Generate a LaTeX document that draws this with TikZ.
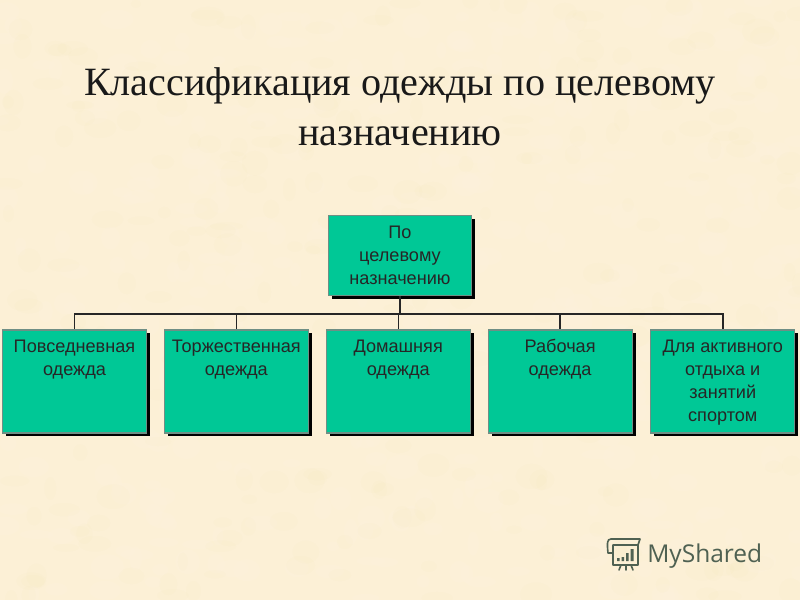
\documentclass[tikz,border=0pt]{standalone}
\usepackage{fontspec}
\setmainfont{Liberation Serif}
\setsansfont{Liberation Sans}
\newfontfamily\logofont{Open Sans}
\usepackage{xcolor}
\usetikzlibrary{positioning,shadows}
\definecolor{parchment}{HTML}{FCF0D6}
\definecolor{boxgreen}{HTML}{00C896}
\definecolor{boxedge}{HTML}{6F8F85}
\definecolor{logogrey}{HTML}{4F6152}
\newcommand{\toptext}[1]{\parbox[c][77pt][t]{107pt}{\centering\rule{0pt}{17pt}#1}}

\begin{document}
\begin{tikzpicture}[x=0.75pt,y=-0.75pt]
\tikzset{boxnode/.style={draw=boxedge,fill=boxgreen,line width=0.8pt,inner sep=0pt,
  font=\sffamily\fontsize{13.6}{17.2}\selectfont,text=black!85,
  drop shadow={shadow xshift=2.6pt,shadow yshift=-2.6pt,fill=black,opacity=1}}}
\tikzset{leafnode/.style={boxnode,minimum width=108pt,minimum height=77.25pt}}
\tikzset{busline/.style={line width=1.1pt,black!85}}

\useasboundingbox (0,0) rectangle (800,600);
\fill[parchment] (0,0) rectangle (800,600);
% paper mottling
\begin{scope}
\clip (0,0) rectangle (800,600);
\pgfmathsetseed{17}
\foreach \blob in {1,...,400}
  \fill[white,opacity=0.05] (rnd*800,rnd*600) ellipse ({5+rnd*12} and {4+rnd*9});
\foreach \blob in {1,...,300}
  \fill[brown!50!yellow,opacity=0.012] (rnd*800,rnd*600) ellipse ({5+rnd*12} and {4+rnd*9});
\end{scope}

\node[font=\fontsize{30.1}{37.5}\selectfont,align=center,text=black!90] (title) at (400,107)
  {Классификация одежды по целевому\\назначению};

\node[boxnode,minimum width=106.8pt,minimum height=60.2pt,align=center] (root) at (400,255.5)
  {По\\целевому\\назначению};

\node[leafnode] (daily) at (74.5,381.5) {\toptext{Повседневная\\одежда}};
\node[leafnode,right=12.6pt of daily] (formal) {\toptext{Торжественная\\одежда}};
\node[leafnode,right=12.6pt of formal] (home) {\toptext{Домашняя\\одежда}};
\node[leafnode,right=12.6pt of home] (work) {\toptext{Рабочая\\одежда}};
\node[leafnode,right=13.2pt of work] (active) {\toptext{Для активного\\отдыха и\\занятий\\спортом}};

\coordinate (bus) at (400,314);
\draw[busline,line width=1.5pt] (root.south) -- (bus);
\foreach \leaf in {daily,formal,home,work,active}
  \draw[busline] (bus) -| (\leaf.north);

% logo
\node[font=\logofont\fontsize{18.4}{22}\selectfont,text=logogrey,inner sep=0pt,anchor=base west] (logo) at (647,562) {MyShared};
\draw[logogrey,line width=1.2pt,line join=round,line cap=round]
  (611,539) -- (640,539) -- (638,545) -- (613,545)
  (611,539) .. controls (607,539) and (607,543) .. (608,553)
  (613,545) -- (613,553) -- (608,553)
  (613,553) -- (613,565) -- (638,565) -- (638,545)
  (621,565) -- (619,570) (626,565) -- (626,570) (631,565) -- (633,570);
\fill[logogrey] (617,558) rectangle (619.5,561) (621.5,557) rectangle (624,561)
  (626,553) rectangle (628.5,561) (630.5,549) rectangle (633.5,561);
\end{tikzpicture}
\end{document}
